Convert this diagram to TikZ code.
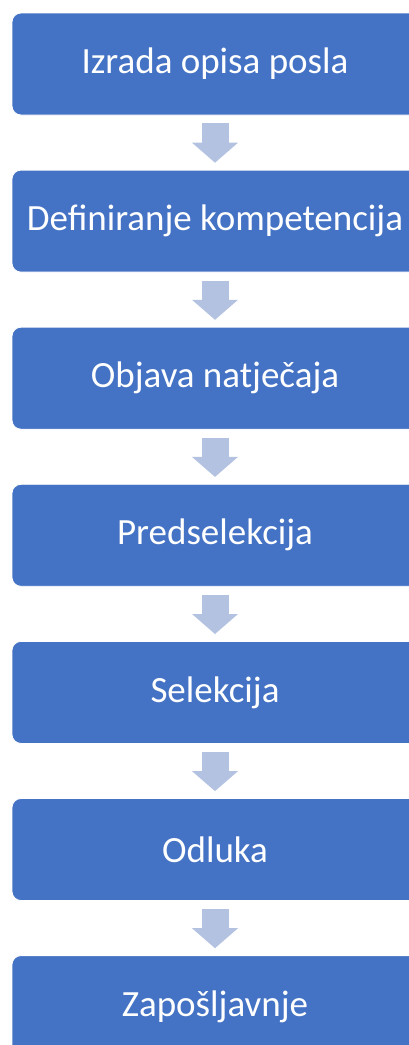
\documentclass[tikz,border=0pt]{standalone}
\usepackage{fontspec}
\setmainfont{Carlito}
\usetikzlibrary{positioning, arrows.meta}
\definecolor{StepBlue}{RGB}{68, 114, 196}
\definecolor{ArrowBlue}{RGB}{180, 194, 225}

\begin{document}
\begin{tikzpicture}[
    x=1pt, y=1pt,
    stepbox/.style={draw=white, line width=0.8pt, fill=StepBlue, rounded corners=9pt,
      minimum width=406pt, minimum height=102pt, inner sep=0pt,
      text=white, font=\fontsize{37}{44}\selectfont},
    flow/.style={draw=ArrowBlue, line width=27pt,
      -{Triangle[width=46pt, length=20pt, line width=0pt]},
      shorten <=8pt, shorten >=7pt}
  ]
  \clip (0,0) rectangle (409,-1045);
  \fill[white] (0,0) rectangle (409,-1045);
  % steps of the process
  \node[stepbox] (s1) at (215,-64) {Izrada opisa posla};
  \node[stepbox, below=54.3pt of s1] (s2) {Definiranje kompetencija};
  \node[stepbox, below=54.3pt of s2] (s3) {Objava natječaja};
  \node[stepbox, below=54.3pt of s3] (s4) {Predselekcija};
  \node[stepbox, below=54.3pt of s4] (s5) {Selekcija};
  \node[stepbox, below=54.3pt of s5] (s6) {Odluka};
  \node[stepbox, below=54.3pt of s6] (s7) {Zapošljavnje};
  % block arrows
  \foreach \a/\b in {s1/s2, s2/s3, s3/s4, s4/s5, s5/s6, s6/s7}
    \draw[flow] (\a) -- (\b);
\end{tikzpicture}
\end{document}
